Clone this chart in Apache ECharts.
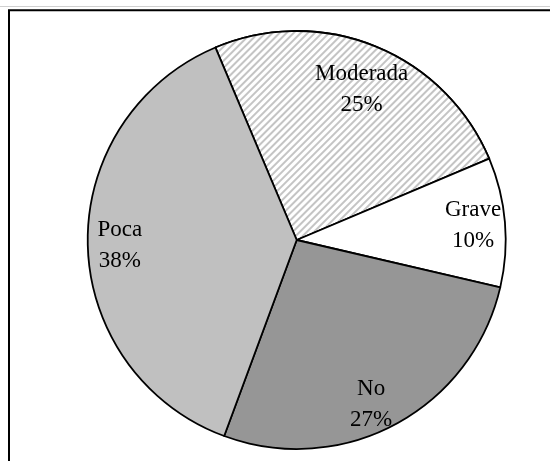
<!DOCTYPE html>
<html>
<head>
<meta charset="utf-8">
<script src="https://cdn.jsdelivr.net/npm/echarts@6/dist/echarts.min.js"></script>
<style>
html,body{margin:0;padding:0;background:#fff;}
#c{width:550px;height:461px;}
</style>
</head>
<body>
<div id="c"></div>
<script>
// Data
var categories = ['Moderada', 'Grave', 'No', 'Poca'];
var values = [25, 10, 27, 38];

// Styles (not data)
var fills = ['#ffffff', '#ffffff', '#969696', '#c0c0c0'];
var labelNudge = [[-2, 14], [-1, 1], [-10, 8], [1, 1]];

var chart = echarts.init(document.getElementById('c'), null, {renderer: 'canvas'});

var pieData = categories.map(function (name, i) {
  var item = {
    name: name,
    value: values[i],
    itemStyle: {color: fills[i]}
  };
  if (i === 0) {
    item.itemStyle.decal = {
      symbol: 'rect',
      symbolSize: 1,
      color: '#c4c4c4',
      backgroundColor: '#ffffff',
      dashArrayX: [1, 0],
      dashArrayY: [2, 2.3],
      rotation: -Math.PI / 4
    };
  }
  return item;
});

var labelData = categories.map(function (name, i) {
  return {name: name, value: values[i]};
});

var center = [296.7, 240];
var startAngle = 112.9;

chart.setOption({
  animation: false,
  backgroundColor: '#ffffff',
  graphic: [
    {type: 'line', shape: {x1: 0, y1: 6.5, x2: 550, y2: 6.5}, style: {stroke: '#d0d0d0', lineWidth: 1}, silent: true},
    {type: 'rect', shape: {x: 9, y: 10.3, width: 600, height: 500}, style: {fill: 'none', stroke: '#000', lineWidth: 2}, silent: true}
  ],
  series: [
    {
      type: 'pie',
      center: center,
      radius: [0, 209],
      startAngle: startAngle,
      clockwise: true,
      avoidLabelOverlap: false,
      label: {show: false},
      labelLine: {show: false},
      emphasis: {disabled: true},
      itemStyle: {borderColor: '#000', borderWidth: 1.8},
      data: pieData,
      z: 2
    },
    {
      type: 'pie',
      center: center,
      radius: [0, 350],
      startAngle: startAngle,
      clockwise: true,
      silent: true,
      avoidLabelOverlap: false,
      itemStyle: {color: 'rgba(0,0,0,0)', borderWidth: 0},
      emphasis: {disabled: true},
      label: {
        show: true,
        position: 'inside',
        formatter: function (p) { return p.name + '\n' + p.percent.toFixed(0) + '%'; },
        fontFamily: 'Liberation Serif',
        fontSize: 23,
        lineHeight: 31,
        color: '#000',
        align: 'center'
      },
      labelLine: {show: false},
      labelLayout: function (params) {
        var n = labelNudge[params.dataIndex];
        return {dx: n[0], dy: n[1]};
      },
      data: labelData,
      z: 3
    }
  ]
});
</script>
</body>
</html>
